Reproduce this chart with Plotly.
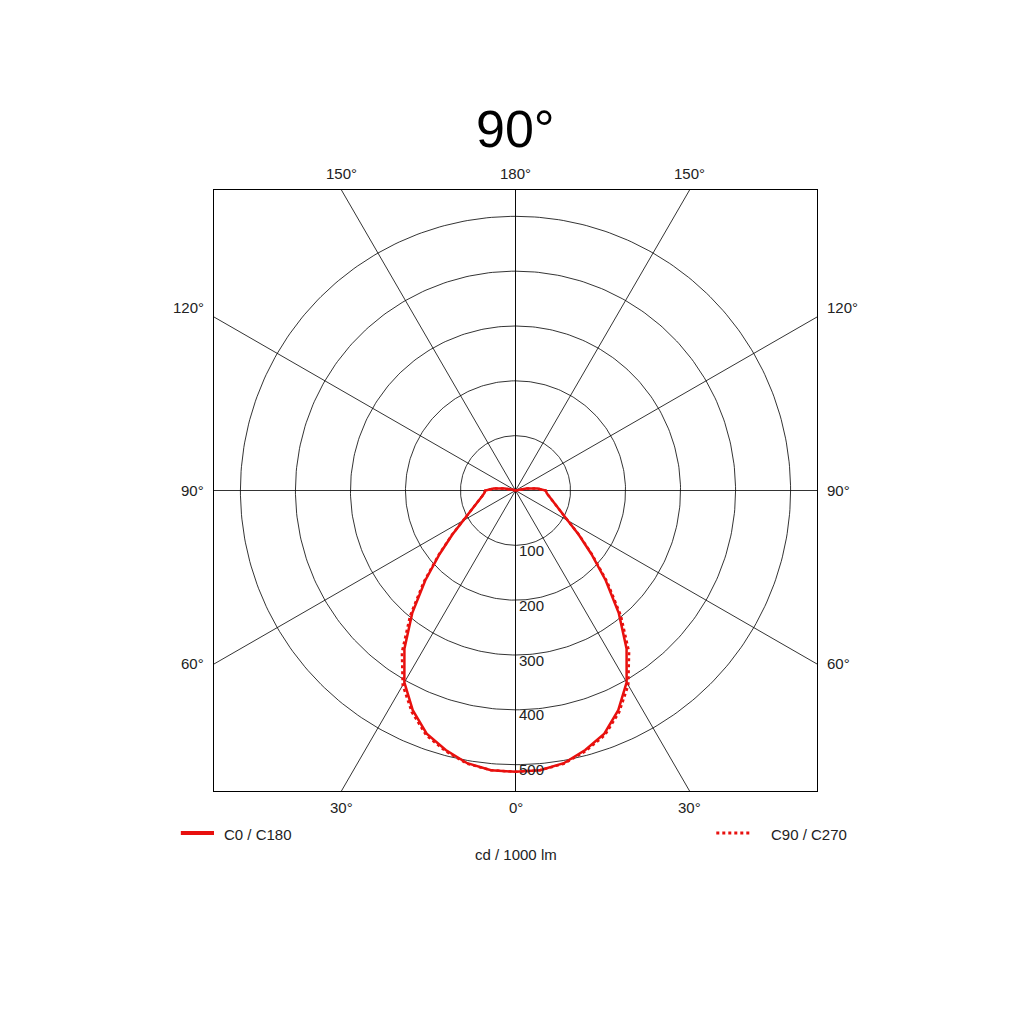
import numpy as np
import plotly.graph_objects as go

gamma = [0,5,10,15,20,25,30,35,40,45,50,55,60,65,70,75,80,85,90,95,100,105,110,180]
c0_c180 = [513,512,505,490,472,442,404,352,292,232,180,140,110,92,78,69,62,57,55,40,20,5,0,0]
c90_c270 = [513,512,506,492,475,446,410,360,298,236,182,141,110,92,78,69,62,57,55,40,20,5,0,0]
rings = [100,200,300,400,500]
spokes = [0,30,60,90,120,150,180]
angle_labels = ["0°","30°","60°","90°","120°","150°","180°"]
R = 548
fig = go.Figure()
t = np.linspace(0, 2*np.pi, 361)
for r in rings:
    fig.add_trace(go.Scatter(x=r*np.sin(t), y=r*np.cos(t), mode="lines",
                             line=dict(color="black", width=0.8), hoverinfo="skip"))
for a in spokes:
    ar = np.radians(a)
    for s in (1, -1):
        fig.add_trace(go.Scatter(x=[0, s*1000*np.sin(ar)], y=[0, -1000*np.cos(ar)], mode="lines",
                                 line=dict(color="black", width=0.8), hoverinfo="skip"))

def xy(vals, side):
    g = np.radians(gamma); v = np.array(vals, float)
    return side*v*np.sin(g), -v*np.cos(g)

for vals, dash, w in ((c90_c270, "dot", 2.5), (c0_c180, "solid", 2.5)):
    xl, yl = xy(vals, -1); xr, yr = xy(vals, 1)
    fig.add_trace(go.Scatter(x=np.concatenate([xl[::-1], xr]), y=np.concatenate([yl[::-1], yr]),
                             mode="lines", line=dict(color="#e8100e", width=w, dash=dash), hoverinfo="skip"))

def P(v):
    return (v + R) / (2 * R)

ann = []
for r in rings:
    ann.append(dict(x=2, y=-r+10, text=str(r), showarrow=False, xanchor="left", yanchor="top",
                    font=dict(size=15, color="#222")))
for a, lab in zip(spokes, angle_labels):
    ar = np.radians(a)
    for s in ((1, -1) if a not in (0, 180) else (1,)):
        xs = ys = 0
        if a < 45:
            x, y, xa, ya = s*R*np.tan(ar), -R, "center", "top"
            ys = -6
        elif a > 135:
            x, y, xa, ya = s*R*np.tan(np.pi-ar), R, "center", "bottom"
            ys = 6
        else:
            x, y = s*R, (-R/np.tan(ar) if a != 90 else 0)
            xa, ya = ("left" if s > 0 else "right"), "middle"
            xs = 8*s
            if a == 120:
                ys = 10
        ann.append(dict(x=P(x), y=P(y), xref="paper", yref="paper", xshift=xs, yshift=ys,
                        text=lab, showarrow=False, xanchor=xa, yanchor=ya,
                        font=dict(size=15, color="#222")))
ann += [
    dict(x=0.5, y=1.0, xref="paper", yref="paper", yshift=30, text="90°", showarrow=False,
         yanchor="bottom", font=dict(size=52, color="black")),
    dict(x=0.5, y=0, xref="paper", yref="paper", yshift=-53, text="cd / 1000 lm", showarrow=False,
         yanchor="top", font=dict(size=15, color="#222")),
    dict(x=0.0, y=0, xref="paper", yref="paper", xshift=8, yshift=-33, text="C0 / C180", showarrow=False,
         xanchor="left", yanchor="top", font=dict(size=15, color="#222")),
    dict(x=1.0, y=0, xref="paper", yref="paper", xshift=32, yshift=-33, text="C90 / C270", showarrow=False,
         xanchor="right", yanchor="top", font=dict(size=15, color="#222")),
]
shapes = [
    dict(type="line", xref="paper", yref="paper", x0=-0.055, x1=0.0, y0=-0.07, y1=-0.07,
         line=dict(color="#e8100e", width=4)),
    dict(type="line", xref="paper", yref="paper", x0=0.833, x1=0.89, y0=-0.07, y1=-0.07,
         line=dict(color="#e8100e", width=3, dash="dot")),
]
fig.update_layout(width=1024, height=1024, showlegend=False, plot_bgcolor="white", paper_bgcolor="white",
                  margin=dict(l=206, r=215, t=182, b=241), annotations=ann, shapes=shapes,
                  font=dict(family="Liberation Sans, Arial"))
ax = dict(range=[-R, R], showgrid=False, zeroline=False, showticklabels=False, ticks="",
          showline=True, mirror=True, linecolor="black", linewidth=1)
fig.update_xaxes(**ax)
fig.update_yaxes(**ax)
fig.write_html("out.html")
